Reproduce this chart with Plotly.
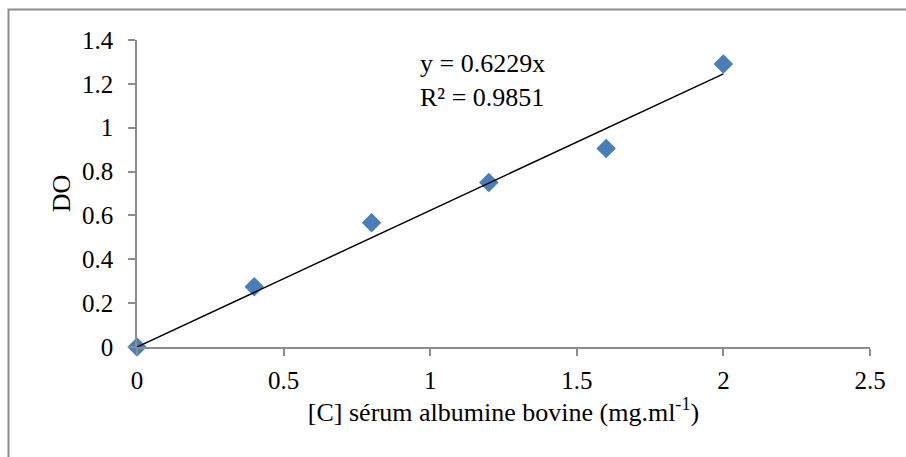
import plotly.graph_objects as go

concentration = [0, 0.4, 0.8, 1.2, 1.6, 2.0]
absorbance = [0.0, 0.275, 0.567, 0.75, 0.905, 1.29]
slope = 0.6229
r_squared = 0.9851
x_ticks = [0, 0.5, 1, 1.5, 2, 2.5]
y_ticks = [0, 0.2, 0.4, 0.6, 0.8, 1, 1.2, 1.4]

FONT = "Liberation Serif, Times New Roman, serif"

trend_x = [min(concentration), max(concentration)]
trend_y = [slope * v for v in trend_x]

fig = go.Figure()
fig.add_trace(go.Scatter(
    x=concentration, y=absorbance, mode="markers",
    marker=dict(symbol="diamond", size=15, color="#4A7EBB"),
    showlegend=False, cliponaxis=False,
))
fig.add_trace(go.Scatter(
    x=trend_x, y=trend_y, mode="lines",
    line=dict(color="black", width=1.5), showlegend=False, hoverinfo="skip",
    cliponaxis=False,
))

fig.add_annotation(
    xref="paper", yref="paper",
    x=(418 - 137) / 733, y=(347 - 47) / 307,
    xanchor="left", yanchor="top", showarrow=False, align="left",
    text=f"y = {slope}x<br>R² = {r_squared}",
    font=dict(family=FONT, size=26, color="black"),
)

fig.add_shape(
    type="rect", xref="paper", yref="paper",
    x0=(8.5 - 137) / 733, x1=(915 - 137) / 733,
    y0=(347 - 470) / 307, y1=(347 - 9.5) / 307,
    line=dict(color="#8C8C8C", width=2), fillcolor="rgba(0,0,0,0)", layer="below",
)

axis_common = dict(
    showgrid=False, zeroline=False, showline=True, linecolor="#8C8C8C", linewidth=1.5,
    ticks="outside", ticklen=7, tickcolor="#8C8C8C", tickwidth=1.5,
    tickfont=dict(family=FONT, size=25, color="black"),
)

fig.update_layout(
    width=906, height=457,
    margin=dict(l=137, r=36, t=40, b=110),
    paper_bgcolor="white", plot_bgcolor="white",
    xaxis=dict(range=[0, 2.5], tickvals=x_ticks, ticktext=[f"{v:g}" for v in x_ticks],
               title=dict(text="[C] sérum albumine bovine (mg.ml<sup>-1</sup>)",
                          font=dict(family=FONT, size=26, color="black"), standoff=5),
               ticklabelstandoff=3, **axis_common),
    yaxis=dict(range=[0, 1.4], tickvals=y_ticks, ticktext=[f"{v:g}" for v in y_ticks],
               title=dict(text="DO", font=dict(family=FONT, size=26, color="black"), standoff=4),
               ticklabelstandoff=10, **axis_common),
)

fig.write_html("out.html")
